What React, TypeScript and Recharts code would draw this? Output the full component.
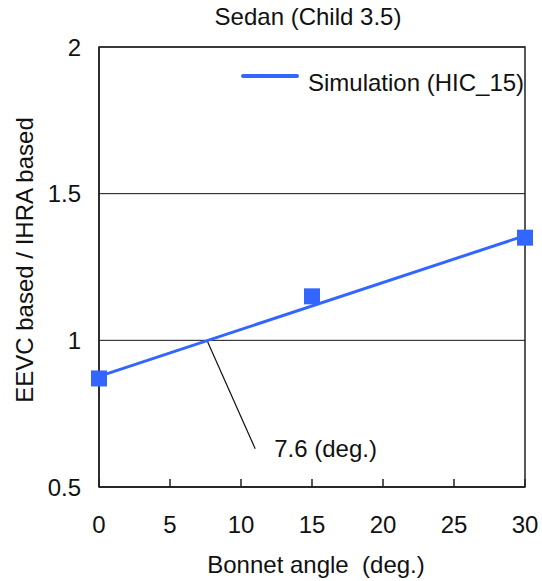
import {
    CartesianGrid,
    ComposedChart,
    Customized,
    Legend,
    Line,
    ReferenceArea,
    ReferenceDot,
    ReferenceLine,
    Scatter,
    XAxis,
    YAxis,
} from "recharts";

const BLUE = "#3366ff";
const FONT = "'Liberation Sans', Arial, sans-serif";

// bonnet angle (deg.) and ratio for the three simulated cases
const angles = [0, 15, 30];
const ratios = [0.87, 1.15, 1.35];

// linear fit through the simulation results, crosses 1.0 at 7.6 deg.
const fitAngles = [0, 30];
const fitRatios = [0.877, 1.357];

const xTicks = [0, 5, 10, 15, 20, 25, 30];
const yTicks = [0.5, 1, 1.5, 2];

const crossAngle = 7.6;
const crossLabel = "7.6 (deg.)";

const points = angles.map((x, i) => ({ x, y: ratios[i] }));
const fit = fitAngles.map((x, i) => ({ x, y: fitRatios[i] }));

const SquareDot = (props: any) => {
    const { cx, cy } = props;
    return <rect x={cx - 8} y={cy - 8} width={16} height={16} fill={BLUE} />;
};

const LegendContent = () => (
    <svg width={300} height={40} style={{ display: "block" }}>
        <line x1={3} y1={16} x2={57} y2={16} stroke={BLUE} strokeWidth={4} strokeLinecap="round" />
        <text x={68} y={31} fontSize={24} fill="#111" fontFamily={FONT}>
            Simulation (HIC_15)
        </text>
    </svg>
);

const Titles = () => (
    <g fontFamily={FONT} fontSize={24} fill="#111">
        <text x={308} y={25} textAnchor="middle">
            Sedan (Child 3.5)
        </text>
        <text x={316} y={573} textAnchor="middle" style={{ whiteSpace: "pre" }}>
            {"Bonnet angle  (deg.)"}
        </text>
        <text x={33} y={260} textAnchor="middle" transform="rotate(-90, 33, 260)">
            EEVC based / IHRA based
        </text>
    </g>
);

const App = () => {
    return (
        <div style={{ position: "absolute", left: 0, top: 0, fontFamily: FONT, background: "#fff" }}>
            <ComposedChart
                width={542}
                height={581}
                margin={{ top: 47, right: 17, bottom: 0, left: 0 }}
            >
                <CartesianGrid vertical={false} stroke="#111" strokeWidth={1} fill="none" />
                <XAxis
                    dataKey="x"
                    type="number"
                    domain={[0, 30]}
                    ticks={xTicks}
                    height={94}
                    tickSize={-8}
                    tickMargin={37}
                    stroke="#222"
                    strokeWidth={1.5}
                    tick={{ fill: "#111", fontSize: 24 }}
                />
                <YAxis
                    type="number"
                    domain={[0.5, 2]}
                    ticks={yTicks}
                    width={99}
                    tickLine={false}
                    tickSize={0}
                    tickMargin={18}
                    stroke="#222"
                    strokeWidth={1.5}
                    tick={{ fill: "#111", fontSize: 24 }}
                />
                <ReferenceArea
                    x1={0}
                    x2={30}
                    y1={0.5}
                    y2={2}
                    fill="none"
                    fillOpacity={0}
                    stroke="#222"
                    strokeWidth={1.5}
                />
                <ReferenceLine
                    segment={[
                        { x: crossAngle, y: 1 },
                        { x: 11, y: 0.63 },
                    ]}
                    stroke="#111"
                    strokeWidth={1.2}
                />
                <ReferenceDot
                    x={11}
                    y={0.633}
                    r={0}
                    fill="none"
                    stroke="none"
                    label={{
                        value: crossLabel,
                        position: "right",
                        offset: 19,
                        fontSize: 24,
                        fill: "#111",
                    }}
                />
                <Line
                    data={fit}
                    dataKey="y"
                    type="linear"
                    stroke={BLUE}
                    strokeWidth={3}
                    dot={false}
                    activeDot={false}
                    legendType="line"
                    isAnimationActive={false}
                />
                <Scatter
                    data={points}
                    dataKey="y"
                    shape={SquareDot}
                    legendType="none"
                    isAnimationActive={false}
                />
                <Legend
                    layout="horizontal"
                    verticalAlign="middle"
                    align="center"
                    content={LegendContent}
                    wrapperStyle={{ top: 60, left: 240, width: 300, height: 40 }}
                />
                <Customized component={Titles} />
            </ComposedChart>
        </div>
    );
};

export default App;
